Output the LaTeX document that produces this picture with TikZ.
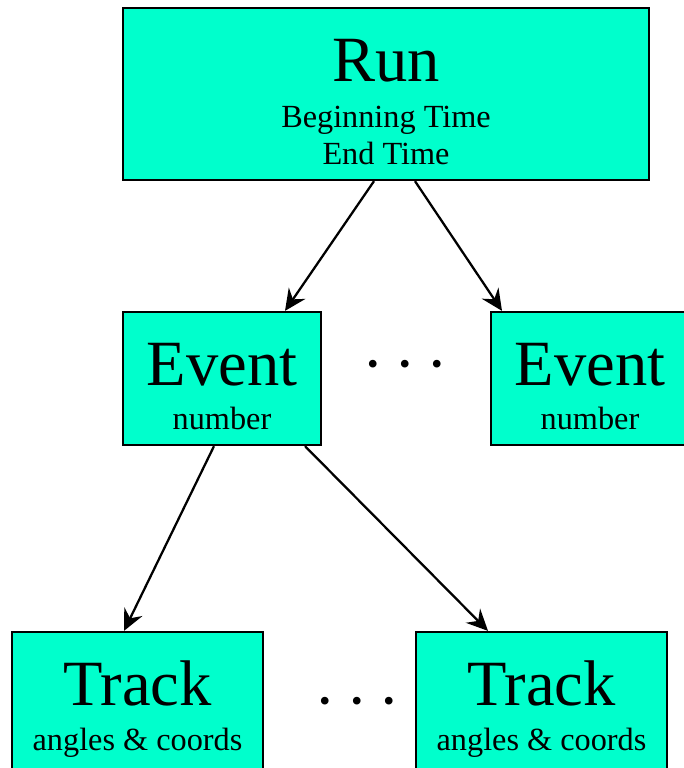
\documentclass[tikz,border=0pt]{standalone}
\usepackage{fontspec}
\setmainfont{Liberation Serif}
\usetikzlibrary{arrows.meta}
\definecolor{boxfill}{RGB}{0,255,204}
\newcommand{\bigword}[1]{{\fontsize{48.4}{50}\selectfont #1}}

\begin{document}
\begin{tikzpicture}[x=0.75pt, y=-0.75pt,
    box/.style={draw, line width=1.7pt, fill=boxfill, rectangle, inner sep=0pt,
        align=center, text depth=0pt, font=\fontsize{24.2}{27.75}\selectfont},
    link/.style={-{Stealth[length=16pt, width=15pt, inset=5.5pt]}, line width=1.7pt},
    dots/.style={anchor=base, font=\fontsize{48.4}{50}\selectfont}]
    \useasboundingbox (0,0) rectangle (684,768);

    % top level
    \node[box, minimum width=394.5pt, minimum height=129pt, text height=105pt] (run) at (386,94)
        {\bigword{Run}\\[6.75pt] Beginning Time\\ End Time};

    % second level
    \node[box, minimum width=148.5pt, minimum height=99.75pt, text height=75.75pt] (evl) at (222,378.5)
        {\bigword{Event}\\[5.25pt] number};
    \node[box, minimum width=148.5pt, minimum height=99.75pt, text height=75.75pt] (evr) at (590,378.5)
        {\bigword{Event}\\[5.25pt] number};
    \node[dots] (evdots) at (405,385) {\textperiodcentered\hspace{8pt}\textperiodcentered\hspace{8pt}\textperiodcentered};

    % third level
    \node[box, minimum width=188.25pt, minimum height=105pt, text height=72pt] (trl) at (137.5,702)
        {\bigword{Track}\\[6pt] angles \& coords};
    \node[box, minimum width=188.25pt, minimum height=105pt, text height=72pt] (trr) at (541.5,702)
        {\bigword{Track}\\[6pt] angles \& coords};
    \node[dots] (trdots) at (357,722) {\textperiodcentered\hspace{8pt}\textperiodcentered\hspace{8pt}\textperiodcentered};

    \draw[link] ([xshift=-9pt]run.south) -- ([xshift=47.25pt]evl.north);
    \draw[link] ([xshift=21.75pt]run.south) -- ([xshift=-66pt]evr.north);
    \draw[link] ([xshift=-6pt]evl.south) -- ([xshift=-10.125pt]trl.north);
    \draw[link] ([xshift=62.25pt]evl.south) -- ([xshift=-40.125pt]trr.north);
\end{tikzpicture}
\end{document}
